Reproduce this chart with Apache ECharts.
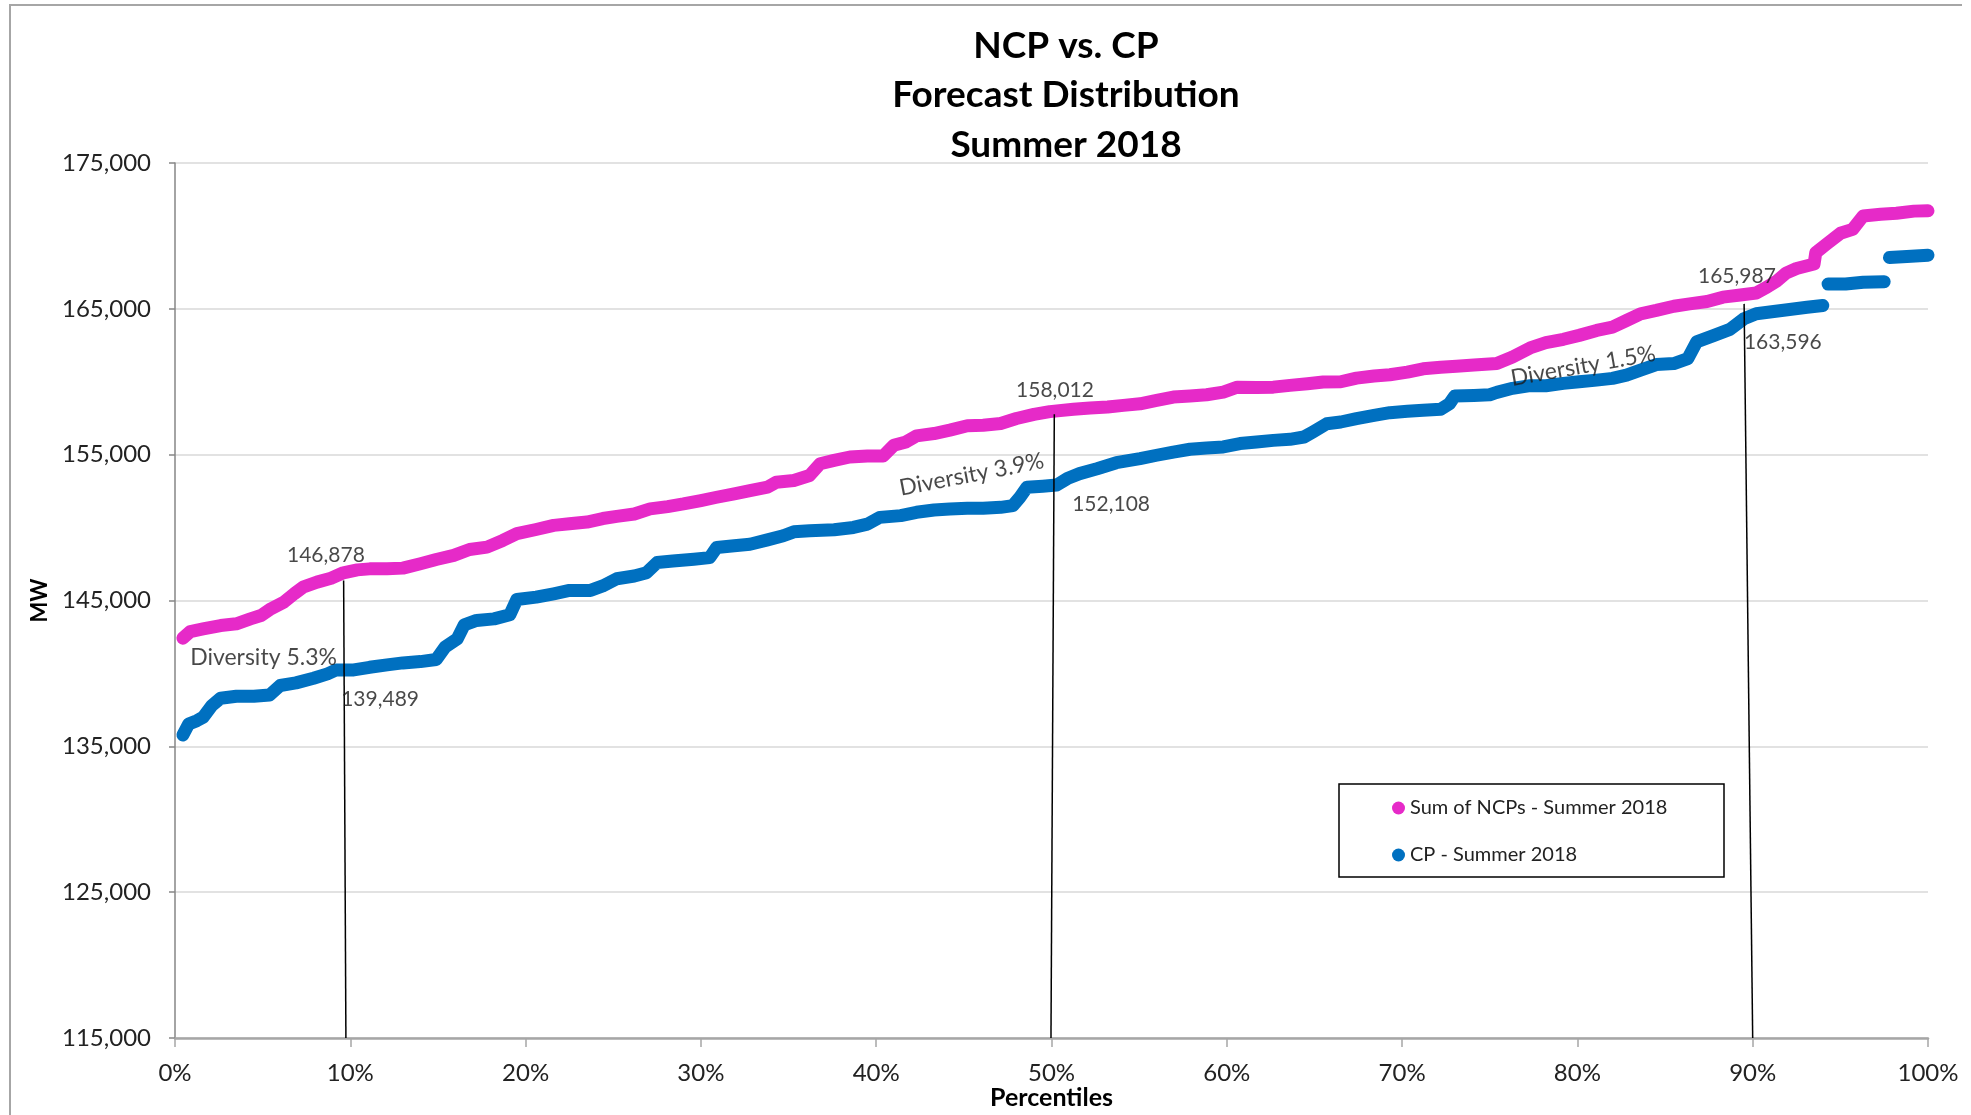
<!DOCTYPE html>
<html>
<head>
<meta charset="utf-8">
<title>NCP vs. CP</title>
<script src="https://cdn.jsdelivr.net/npm/echarts@6/dist/echarts.min.js"></script>
<style>
  html, body { margin: 0; padding: 0; background: #fff; }
  #chart { width: 1971px; height: 1115px; }
</style>
</head>
<body>
<div id="chart"></div>
<script>
// Sum of NCPs - Summer 2018 (percentile, MW)
const ncpPct = [0.45, 0.87, 1.6, 2.6, 3.5, 4.3, 4.9, 5.4, 6.2, 6.8, 7.3, 8.1, 8.9, 9.6, 10.4, 11.1, 12.1, 13.0, 14.0, 14.9,
  15.9, 16.8, 17.8, 18.7, 19.5, 20.6, 21.6, 22.5, 23.5, 24.4, 25.2, 26.2, 27.1, 28.1, 29.0, 30.0, 30.9, 31.9, 32.8, 33.8,
  34.3, 35.3, 36.2, 36.8, 37.6, 38.5, 39.5, 40.4, 41.0, 41.7, 42.3, 43.3, 44.2, 45.2, 46.1, 47.1, 48.0, 49.0, 49.9, 51.25,
  52.2, 53.2, 54.1, 55.05, 56.0, 56.95, 57.9, 58.85, 59.8, 60.6, 61.7, 62.65, 63.6, 64.6, 65.5, 66.5, 67.4, 68.4, 69.3, 70.3,
  71.2, 72.2, 73.1, 74.1, 75.4, 76.3, 77.3, 78.2, 79.2, 80.1, 81.1, 82.0, 82.8, 83.6, 84.5, 85.5, 86.4, 87.4, 88.3, 89.3,
  90.2, 90.8, 91.4, 91.9, 92.5, 93.5, 93.6, 94.2, 95.0, 95.7, 96.3, 97.3, 98.2, 99.2, 100]
const ncpMW = [142415, 142870, 143050, 143280, 143400, 143740, 143970, 144380, 144880, 145460, 145910, 146260, 146530, 146900, 147100, 147170, 147170, 147220, 147520, 147810,
  148090, 148500, 148660, 149120, 149580, 149870, 150150, 150260, 150380, 150620, 150770, 150930, 151280, 151440, 151620, 151850, 152080, 152310, 152540, 152770,
  153110, 153230, 153570, 154380, 154610, 154840, 154910, 154910, 155640, 155870, 156290, 156450, 156680, 156980, 157020, 157140, 157480, 157760, 157950, 158110,
  158200, 158270, 158380, 158490, 158720, 158950, 159020, 159110, 159290, 159630, 159600, 159630, 159750, 159860, 159980, 160000, 160250, 160390, 160480, 160660,
  160890, 161000, 161070, 161150, 161250, 161700, 162320, 162680, 162910, 163180, 163520, 163750, 164200, 164660, 164890, 165180, 165340, 165500, 165800, 165950,
  166090, 166480, 166930, 167450, 167770, 168070, 168860, 169430, 170180, 170450, 171360, 171480, 171550, 171700, 171720]

// CP - Summer 2018 (percentile, MW); null = gap between steps
const cpPct = [0.45, 0.78, 1.25, 1.6, 2.1, 2.6, 3.5, 4.5, 5.4, 6.0, 6.9, 7.9, 8.7, 9.2, 10.2, 11.1, 12.1, 13.0, 14.0, 14.9,
  15.4, 16.1, 16.5, 17.2, 18.2, 19.1, 19.5, 20.6, 21.6, 22.5, 23.7, 24.4, 25.2, 26.2, 26.9, 27.5, 28.4, 29.6, 30.5, 30.9,
  31.9, 32.8, 33.8, 34.7, 35.3, 36.2, 37.6, 38.7, 39.5, 40.2, 41.4, 42.3, 43.3, 44.2, 45.2, 46.1, 47.1, 47.8, 48.2, 48.6,
  49.5, 50.3, 50.9, 51.6, 52.6, 53.7, 55.05, 56.0, 56.95, 57.9, 58.85, 59.8, 60.75, 61.7, 62.65, 63.6, 64.4, 64.9, 65.7, 66.5,
  67.4, 68.4, 69.3, 70.3, 71.2, 72.2, 72.7, 73.0, 74.1, 75.0, 75.4, 76.3, 77.3, 78.2, 79.2, 80.1, 81.1, 82.0, 82.8, 83.6,
  84.5, 85.5, 86.3, 86.8, 87.8, 88.7, 89.5, 90.2, 91.2, 92.1, 93.1, 94.0, 94.1, 94.3, 95.3, 96.3, 97.5, 97.6, 97.8, 98.8, 100]
const cpMW = [135780, 136530, 136760, 136990, 137790, 138300, 138430, 138430, 138520, 139170, 139350, 139670, 139970, 140240, 140240, 140420, 140590, 140720, 140810, 140950,
  141800, 142370, 143330, 143630, 143740, 144020, 145070, 145230, 145460, 145690, 145690, 146000, 146490, 146680, 146910, 147600, 147710, 147830, 147940, 148630,
  148750, 148860, 149160, 149440, 149710, 149780, 149850, 150010, 150240, 150700, 150820, 151050, 151210, 151280, 151320, 151320, 151390, 151510, 152080, 152770,
  152840, 152920, 153360, 153700, 154040, 154450, 154730, 154960, 155180, 155370, 155460, 155530, 155760, 155870, 155980, 156050, 156210, 156550, 157120, 157240,
  157470, 157690, 157880, 157970, 158040, 158110, 158490, 159020, 159060, 159110, 159270, 159550, 159730, 159730, 159890, 160000, 160110, 160230, 160450, 160800,
  161180, 161250, 161590, 162730, 163180, 163590, 164320, 164660, 164820, 164950, 165110, 165230, null, 166700, 166700, 166820, 166860, null, 168520, 168590, 168680]

const yTicks = [115000, 125000, 135000, 145000, 155000, 165000, 175000]

// drop lines at 10th / 50th / 90th percentile: top point and foot on the axis
const dropTopPct = [9.62, 50.16, 89.51]
const dropTopMW = [146370, 157770, 165340]
const dropFootPct = [9.75, 49.97, 90.0]

// callout texts and where they sit
const noteText = ['146,878', '139,489', 'Diversity 5.3%', '158,012', '152,108', 'Diversity 3.9%', '165,987', '163,596', 'Diversity 1.5%']
const notePct = [8.61, 11.7, 5.05, 50.2, 53.4, 45.45, 89.1, 91.72, 80.33]
const noteMW = [148110, 138250, 141100, 159430, 151580, 153640, 167240, 162720, 161080]
const noteTilt = [0, 0, 0, 0, 0, 11, 0, 0, 10]

const FONT = 'Lato'
let pair = (xs, ys) => xs.map((x, i) => [x, ys[i] === null ? '-' : ys[i]])

let chart = echarts.init(document.getElementById('chart'))

let dropLines = dropTopPct.map((p, i) => [
  { coord: [p, dropTopMW[i]] },
  { coord: [dropFootPct[i], yTicks[0]] }
])

// the "Diversity" callouts are set a bit larger, like the original
let notes = noteText.map((t, i) => ({
  name: t,
  value: [notePct[i], noteMW[i]],
  label: { rotate: noteTilt[i], fontSize: t.indexOf('Diversity') === 0 ? 23 : 21 }
}))

let option = {
  animation: false,
  backgroundColor: '#fff',
  textStyle: { fontFamily: FONT },
  title: {
    text: 'NCP vs. CP\nForecast Distribution\nSummer 2018',
    left: 1061,
    top: 16,
    textAlign: 'center',
    textStyle: { fontFamily: FONT, fontSize: 37, fontWeight: 'bold', color: '#000', lineHeight: 49.5 }
  },
  legend: {
    data: ['Sum of NCPs - Summer 2018', 'CP - Summer 2018'],
    orient: 'vertical',
    left: 1392,
    top: 797,
    padding: 0,
    itemGap: 25,
    icon: 'circle',
    itemWidth: 13,
    itemHeight: 13,
    textStyle: { fontFamily: FONT, fontSize: 20, color: '#222', lineHeight: 22 }
  },
  grid: { left: 175, right: 43, top: 163, bottom: 75.5 },
  xAxis: {
    type: 'value',
    min: 0,
    max: 100,
    interval: 10,
    name: 'Percentiles',
    nameLocation: 'middle',
    nameGap: 47,
    nameMoveOverlap: false,
    nameTextStyle: { fontFamily: FONT, fontSize: 25, fontWeight: 'bold', color: '#000' },
    axisLine: { lineStyle: { color: '#a6a6a6', width: 2.5 } },
    axisTick: { length: 9, lineStyle: { color: '#a6a6a6', width: 1.5 } },
    axisLabel: { formatter: '{value}%', margin: 23, fontSize: 24, color: '#222', fontFamily: FONT },
    splitLine: { show: false }
  },
  yAxis: {
    type: 'value',
    min: yTicks[0],
    max: yTicks[yTicks.length - 1],
    interval: 10000,
    name: 'MW',
    nameLocation: 'middle',
    nameGap: 124,
    nameMoveOverlap: false,
    nameTextStyle: { fontFamily: FONT, fontSize: 22, fontWeight: 'bold', color: '#000' },
    axisLine: { show: true, lineStyle: { color: '#868686', width: 1.5 } },
    axisTick: { show: true, length: 6, lineStyle: { color: '#868686', width: 1.5 } },
    axisLabel: {
      margin: 24,
      fontSize: 24,
      color: '#222',
      fontFamily: FONT,
      formatter: (v) => v.toLocaleString('en-US')
    },
    splitLine: { lineStyle: { color: '#d9d9d9', width: 1.5 } }
  },
  graphic: [
    {
      type: 'polyline',
      shape: { points: [[10, 1115], [10, 5], [1962, 5]] },
      style: { stroke: '#a6a6a6', lineWidth: 2, fill: null },
      silent: true
    },
    {
      type: 'rect',
      shape: { x: 1339, y: 784, width: 385, height: 93 },
      style: { stroke: '#000', lineWidth: 1.5, fill: '#fff' },
      z: -1,
      silent: true
    }
  ],
  series: [
    {
      name: 'Sum of NCPs - Summer 2018',
      type: 'line',
      data: pair(ncpPct, ncpMW),
      showSymbol: false,
      connectNulls: false,
      itemStyle: { color: '#e62ac8' },
      lineStyle: { color: '#e62ac8', width: 13, cap: 'round', join: 'round' },
      z: 3
    },
    {
      name: 'CP - Summer 2018',
      type: 'line',
      data: pair(cpPct, cpMW),
      showSymbol: false,
      connectNulls: false,
      itemStyle: { color: '#0070c0' },
      lineStyle: { color: '#0070c0', width: 13, cap: 'round', join: 'round' },
      z: 2
    },
    {
      name: 'notes',
      type: 'scatter',
      silent: true,
      symbolSize: 0,
      z: 5,
      data: notes,
      label: {
        show: true,
        position: 'inside',
        formatter: (p) => p.name,
        fontFamily: FONT,
        fontSize: 21,
        color: '#1a1a1a'
      },
      markLine: {
        silent: true,
        symbol: ['none', 'none'],
        label: { show: false },
        lineStyle: { color: '#000', width: 1.5, type: 'solid' },
        data: dropLines
      }
    }
  ]
}
chart.setOption(option)
</script>
</body>
</html>
